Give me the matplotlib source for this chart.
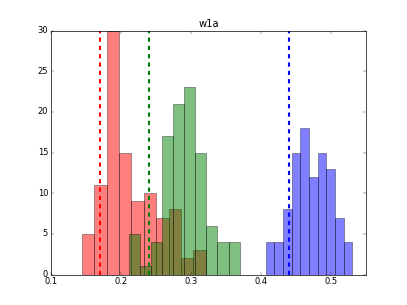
import numpy as np
import matplotlib
matplotlib.use("Agg")
import matplotlib.pyplot as plt

plt.style.use('classic')

title = "w1a"

# histogram bin ranges (x values) and counts
red_range = (0.144, 0.321)
red_counts = [5, 11, 30, 15, 9, 10, 7, 8, 2, 3]
green_range = (0.2113, 0.3693)
green_counts = [5, 1, 4, 17, 21, 23, 15, 6, 4, 4]
blue_range = (0.4065, 0.530)
blue_counts = [4, 4, 8, 15, 18, 12, 15, 13, 7, 4]

# vertical dashed markers
red_mark = 0.17
green_mark = 0.24
blue_mark = 0.44

xlim = (0.1, 0.55)
ylim = (0, 30)

fig = plt.figure(figsize=(8.14, 6.1), dpi=50)
ax = fig.add_subplot(111)

for rng, counts, col in [(red_range, red_counts, 'r'),
                         (green_range, green_counts, 'g'),
                         (blue_range, blue_counts, 'b')]:
    edges = np.linspace(rng[0], rng[1], len(counts) + 1)
    centers = (edges[:-1] + edges[1:]) / 2
    ax.hist(centers, bins=edges, weights=counts, color=col, alpha=0.5)

for x, col in [(red_mark, 'r'), (green_mark, 'g'), (blue_mark, 'b')]:
    ax.axvline(x, color=col, linestyle='--', linewidth=3)

ax.set_xlim(*xlim)
ax.set_ylim(*ylim)
ax.set_title(title)

fig.savefig("out.png", dpi=50)
